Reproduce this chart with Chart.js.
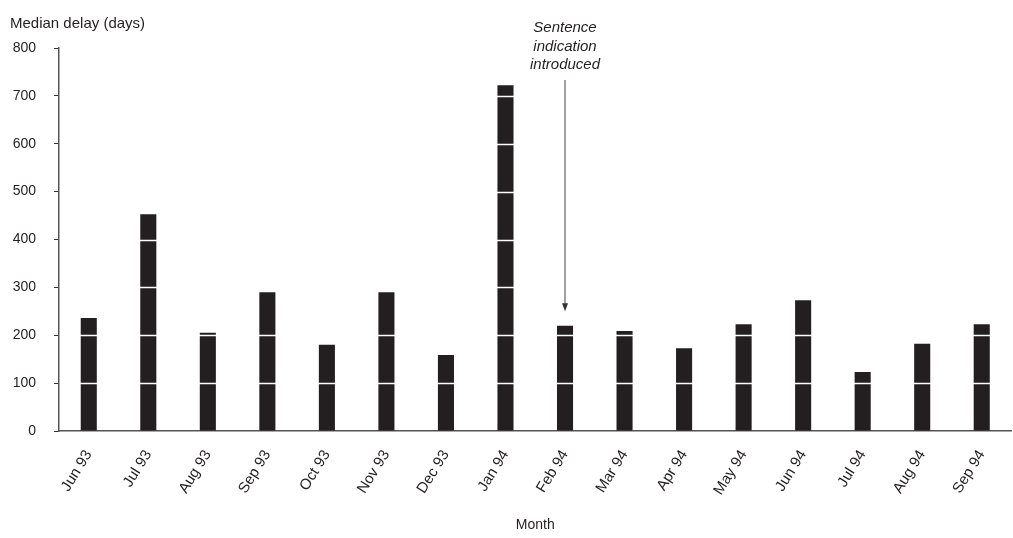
<!DOCTYPE html>
<html>
<head>
<meta charset="utf-8">
<script src="https://cdn.jsdelivr.net/npm/chart.js@4.4.1/dist/chart.umd.min.js"></script>
<style>
  html, body { margin: 0; padding: 0; background: #fff; overflow: hidden; }
  #wrap { width: 1013px; height: 538px; position: relative; }
</style>
</head>
<body>
<div id="wrap"><canvas id="delayChart"></canvas></div>
<script>
    // 数据
    const months = ['Jun 93', 'Jul 93', 'Aug 93', 'Sep 93', 'Oct 93', 'Nov 93', 'Dec 93', 'Jan 94',
                    'Feb 94', 'Mar 94', 'Apr 94', 'May 94', 'Jun 94', 'Jul 94', 'Aug 94', 'Sep 94'];
    const medianDelay = [236, 453, 205, 290, 180, 290, 159, 722, 220, 209, 173, 223, 273, 123, 182, 223];
    const yTicks = [0, 100, 200, 300, 400, 500, 600, 700, 800];
    const noteLines = ['Sentence', 'indication', 'introduced'];
    const noteMonth = 'Feb 94';

    const FONT = "'Liberation Sans', Arial, sans-serif";
    const INK = '#231f20';

    // 白色网格线压在柱子上
    const whiteGridPlugin = {
        id: 'whiteGrid',
        afterDatasetsDraw(chart) {
            const c = chart.ctx;
            const y = chart.scales.y;
            const area = chart.chartArea;
            c.save();
            c.strokeStyle = '#ffffff';
            c.lineWidth = 1.5;
            yTicks.forEach(v => {
                if (v <= 0 || v >= 800) return;
                const py = Math.round(y.getPixelForValue(v)) + 0.5;
                c.beginPath();
                c.moveTo(area.left + 1, py);
                c.lineTo(area.right, py);
                c.stroke();
            });
            c.restore();
        }
    };

    // 画 y 轴标题和注释箭头
    const extrasPlugin = {
        id: 'extras',
        afterDraw(chart) {
            const c = chart.ctx;
            const x = chart.scales.x;
            const y = chart.scales.y;
            c.save();
            c.fillStyle = INK;
            c.font = '15px ' + FONT;
            c.textAlign = 'left';
            c.textBaseline = 'middle';
            c.fillText('Median delay (days)', 10, 24);

            const cx = x.getPixelForValue(months.indexOf(noteMonth));
            c.font = 'italic 15px ' + FONT;
            c.textAlign = 'center';
            noteLines.forEach((t, i) => c.fillText(t, cx, 28 + i * 18.5));

            const yStart = 80;
            const yEnd = y.getPixelForValue(250);
            c.strokeStyle = '#444';
            c.lineWidth = 1;
            c.beginPath();
            c.moveTo(cx, yStart);
            c.lineTo(cx, yEnd - 6);
            c.stroke();
            c.fillStyle = '#333';
            c.beginPath();
            c.moveTo(cx - 3, yEnd - 8);
            c.lineTo(cx + 3, yEnd - 8);
            c.lineTo(cx, yEnd);
            c.closePath();
            c.fill();
            c.restore();
        }
    };

    const ctx = document.getElementById('delayChart').getContext('2d');
    const delayChart = new Chart(ctx, {
        type: 'bar',
        data: {
            labels: months,
            datasets: [{
                data: medianDelay,
                backgroundColor: INK,
                barPercentage: 0.27,
                categoryPercentage: 1.0,
            }]
        },
        options: {
            responsive: true,
            maintainAspectRatio: false,
            animation: false,
            layout: { padding: { top: 48, left: 0, right: 0, bottom: 4 } },
            plugins: {
                legend: { display: false },
                tooltip: { enabled: false },
            },
            scales: {
                x: {
                    grid: { display: false, drawTicks: false },
                    border: { color: '#555', width: 1.5 },
                    ticks: {
                        color: INK,
                        font: { family: FONT, size: 15 },
                        minRotation: 58,
                        maxRotation: 58,
                        padding: 16,
                        autoSkip: false,
                    },
                    title: {
                        display: true,
                        text: 'Month',
                        color: INK,
                        font: { family: FONT, size: 14 },
                        padding: { top: 0, bottom: 0 },
                    },
                    afterFit(axis) { axis.height = 103; },
                },
                y: {
                    min: 0,
                    max: 800,
                    afterBuildTicks(axis) { axis.ticks = yTicks.map(v => ({ value: v })); },
                    grid: {
                        color: 'rgba(0,0,0,0)',
                        tickColor: '#333',
                        tickLength: 5,
                    },
                    border: { color: '#555', width: 1.5 },
                    ticks: {
                        color: INK,
                        font: { family: FONT, size: 14 },
                        padding: 18,
                    },
                    afterFit(axis) { axis.width = 59; },
                }
            }
        },
        plugins: [whiteGridPlugin, extrasPlugin]
    });
</script>
</body>
</html>
